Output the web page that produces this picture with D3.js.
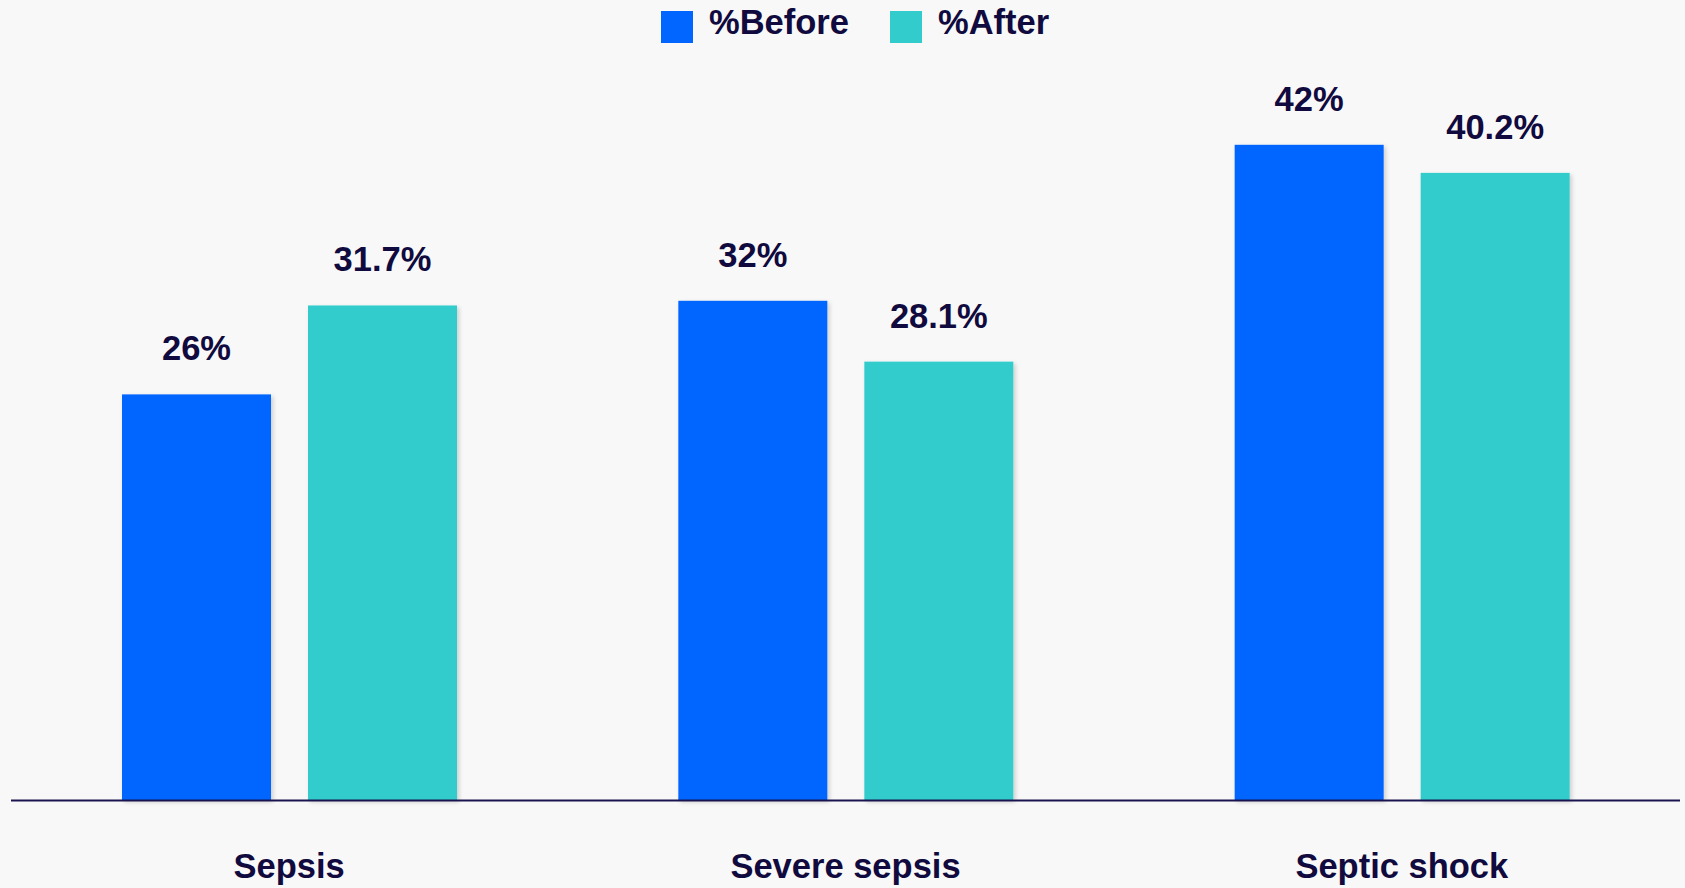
<!DOCTYPE html>
<html lang="en">
<head>
    <meta charset="UTF-8">
    <title>Sepsis before / after</title>
    <script src="https://d3js.org/d3.v7.min.js"></script>
    <style>
        html, body { margin: 0; padding: 0; background: #f8f8f8; }
        text { font-family: "Liberation Sans", Arial, sans-serif; font-weight: bold; fill: #100a3e; }
    </style>
</head>
<body>
    <div id="chart"></div>
    <script>
        // Data
        const categories = ['Sepsis', 'Severe sepsis', 'Septic shock'];
        const series = ['%Before', '%After'];
        const before = [26, 32, 42];
        const after = [31.7, 28.1, 40.2];
        const colors = ['#0066ff', '#33cccc'];

        const width = 1685, height = 888;
        const baseY = 800;
        const fontSize = '34.5px';

        const svg = d3.select('#chart')
            .append('svg')
            .attr('width', width)
            .attr('height', height);

        // soft shadow on bars
        const defs = svg.append('defs');
        const f = defs.append('filter').attr('id', 'shadow')
            .attr('x', '-5%').attr('y', '-5%').attr('width', '115%').attr('height', '115%');
        f.append('feDropShadow').attr('dx', 2).attr('dy', 2).attr('stdDeviation', 2)
            .attr('flood-color', '#000').attr('flood-opacity', 0.18);

        const x0 = d3.scaleBand()
            .domain(categories)
            .range([11, 1680])
            .padding(0);

        const x1 = d3.scaleBand()
            .domain(series)
            .range([111, 446])
            .paddingInner(0.199)
            .paddingOuter(0);

        const y = d3.scaleLinear()
            .domain([0, 45])
            .range([baseY, baseY - 45 * 15.6]);

        const rows = categories.map((c, i) => ({
            cat: c,
            vals: [{ s: series[0], v: before[i] }, { s: series[1], v: after[i] }]
        }));

        const groups = svg.selectAll('.grp')
            .data(rows)
            .enter()
            .append('g')
            .attr('class', 'grp')
            .attr('transform', d => `translate(${x0(d.cat)},0)`);

        groups.selectAll('rect')
            .data(d => d.vals)
            .enter()
            .append('rect')
            .attr('x', d => x1(d.s))
            .attr('y', d => y(d.v))
            .attr('width', x1.bandwidth())
            .attr('height', d => baseY - y(d.v))
            .attr('fill', (d, i) => colors[i])
            .attr('filter', 'url(#shadow)');

        groups.selectAll('text.val')
            .data(d => d.vals)
            .enter()
            .append('text')
            .attr('class', 'val')
            .attr('x', d => x1(d.s) + x1.bandwidth() / 2)
            .attr('y', d => y(d.v) - 34)
            .attr('text-anchor', 'middle')
            .style('font-size', fontSize)
            .text(d => d.v + '%');

        // axis line
        svg.append('line')
            .attr('x1', 11).attr('x2', 1680)
            .attr('y1', baseY + 0.5).attr('y2', baseY + 0.5)
            .attr('stroke', '#1a1450')
            .attr('stroke-width', 2);

        // category labels
        svg.selectAll('.cat')
            .data(categories)
            .enter()
            .append('text')
            .attr('class', 'cat')
            .attr('x', d => x0(d) + x0.bandwidth() / 2)
            .attr('y', 878)
            .attr('text-anchor', 'middle')
            .style('font-size', fontSize)
            .text(d => d);

        // legend
        const legendX = [661, 890];
        const legend = svg.selectAll('.leg')
            .data(series)
            .enter()
            .append('g')
            .attr('class', 'leg')
            .attr('transform', (d, i) => `translate(${legendX[i]},11)`);

        legend.append('rect')
            .attr('width', 32)
            .attr('height', 32)
            .attr('fill', (d, i) => colors[i]);

        legend.append('text')
            .attr('x', 48)
            .attr('y', 23)
            .style('font-size', fontSize)
            .text(d => d);
    </script>
</body>
</html>
